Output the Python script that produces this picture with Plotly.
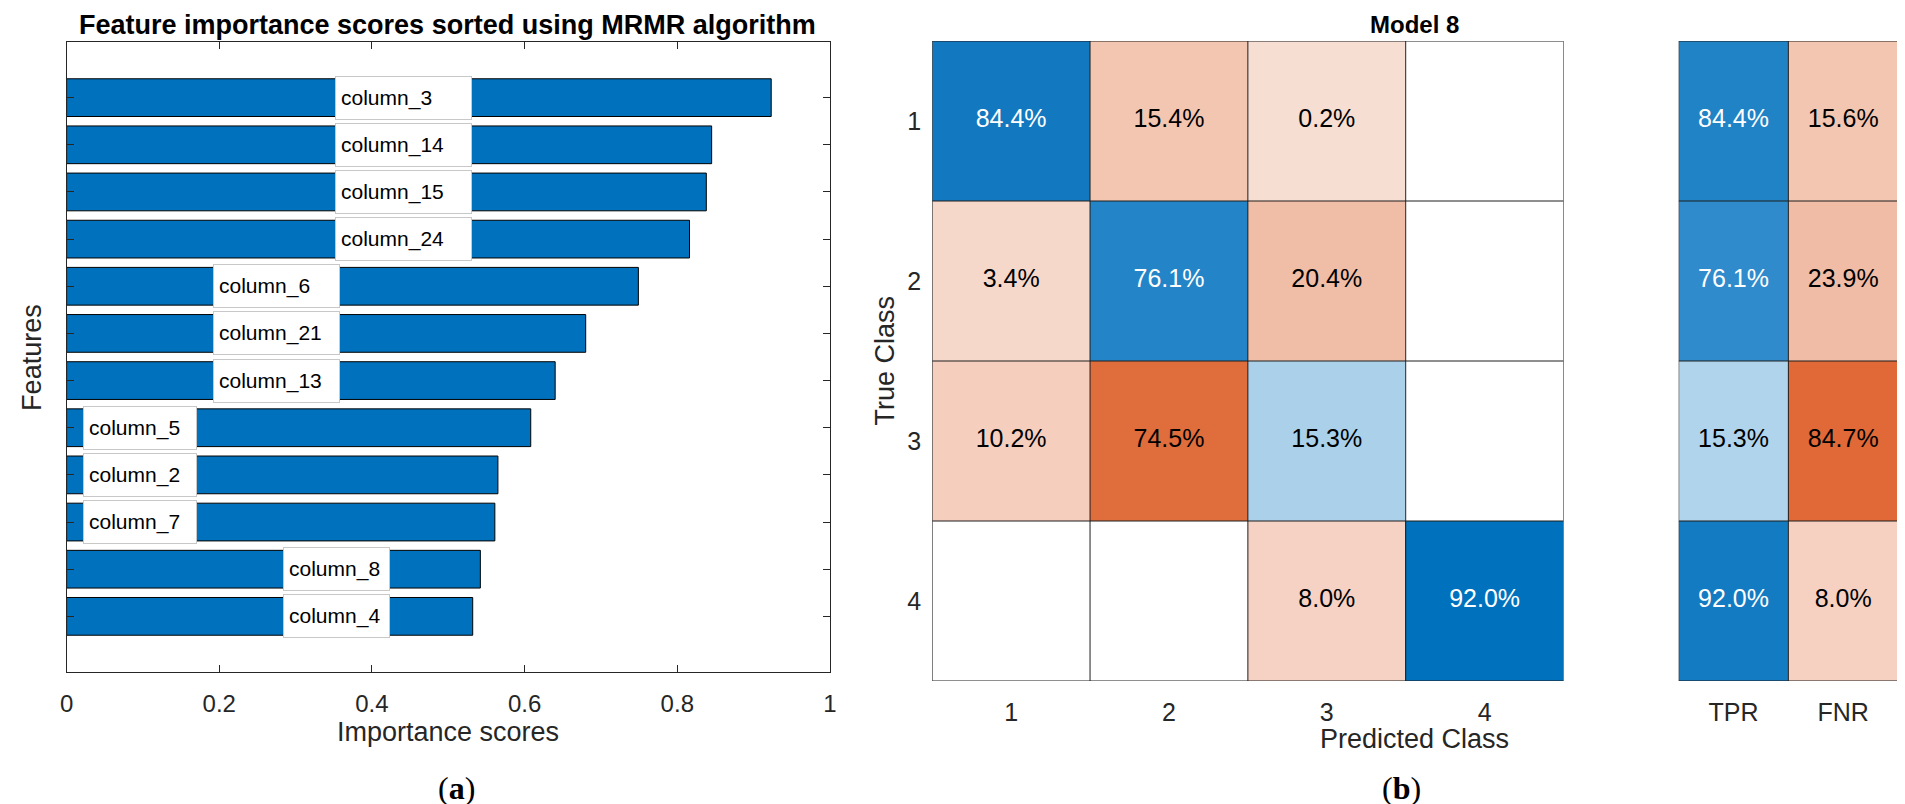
import plotly.graph_objects as go

# ---------------- data ----------------
features = ["column_3", "column_14", "column_15", "column_24", "column_6", "column_21",
            "column_13", "column_5", "column_2", "column_7", "column_8", "column_4"]
scores = [0.923, 0.845, 0.838, 0.816, 0.749, 0.680, 0.640, 0.608, 0.565, 0.561, 0.542, 0.532]

classes = ["1", "2", "3", "4"]
cm_pct = [[84.4, 15.4, 0.2, 0.0],
          [3.4, 76.1, 20.4, 0.0],
          [10.2, 74.5, 15.3, 0.0],
          [0.0, 0.0, 8.0, 92.0]]
summary_cols = ["TPR", "FNR"]
tpr = [84.4, 76.1, 15.3, 92.0]
fnr = [15.6, 23.9, 84.7, 8.0]
x_ticks = [0, 0.2, 0.4, 0.6, 0.8, 1]
x_ticktext = ["0", "0.2", "0.4", "0.6", "0.8", "1"]

# ---------------- style ----------------
W, H = 1905, 804
FONT = "Liberation Sans, Arial, sans-serif"
SERIF = "Liberation Serif, Times New Roman, serif"
AX = "#262626"
BLUE = "#0072BD"
GRID = "#1E1E1E"

def px_x(p):
    return p / W

def px_y(p):
    return 1 - p / H

# label boxes: (left edge in data units, box width px, members)
label_groups = [(0.352, 137, ["column_3", "column_14", "column_15", "column_24"]),
                (0.192, 127, ["column_6", "column_21", "column_13"]),
                (0.021, 114, ["column_5", "column_2", "column_7"]),
                (0.283, 107, ["column_8", "column_4"])]

def build_scale(orange_stops, blue_stops):
    cs = []
    for v, c in sorted(orange_stops, key=lambda s: -s[0]):
        cs.append([(100 - v) / 200.0, c])
    for v, c in sorted(blue_stops, key=lambda s: s[0]):
        cs.append([(100 + v) / 200.0, c])
    cs[0][0] = 0.0
    cs[-1][0] = 1.0
    return cs

cm_scale = build_scale(
    [(0.2, "#F7DED3"), (3.4, "#F6D8CB"), (8.0, "#F5D2C3"), (10.2, "#F5CEBE"),
     (15.4, "#F3C6B2"), (20.4, "#F0BDA6"), (74.5, "#E06D3C"), (100, "#D95319")],
    [(15.3, "#ABD0E9"), (76.1, "#2385C7"), (84.4, "#1279C0"), (92.0, "#0072BD"), (100, "#0072BD")])
sum_scale = build_scale(
    [(8.0, "#F6D0C1"), (15.6, "#F3C6B2"), (23.9, "#F0BCA5"), (84.7, "#E06937"), (100, "#D95319")],
    [(15.3, "#B0D4EC"), (76.1, "#2F8BCB"), (84.4, "#1F83C6"), (92.0, "#137BC1"), (100, "#0072BD")])

fig = go.Figure()

# ---------------- (a) bar chart ----------------
fig.add_trace(go.Bar(
    x=scores, y=features, orientation="h", width=0.8,
    marker=dict(color=BLUE, line=dict(color="black", width=1)),
    xaxis="x", yaxis="y", showlegend=False, hoverinfo="skip"))

# ---------------- (b) confusion matrix ----------------
n = len(classes)
z_cm, txt_x, txt_y, txt, txt_col = [], [], [], [], []
for i in range(n):
    row = []
    for j in range(n):
        v = cm_pct[i][j]
        if v == 0:
            row.append(None)
        else:
            row.append(v if i == j else -v)
            txt_x.append(classes[j]); txt_y.append(classes[i])
            txt.append(f"{v:.1f}%")
            txt_col.append("white" if (i == j and v > 50) else "black")
    z_cm.append(row)

fig.add_trace(go.Heatmap(
    z=z_cm, x=classes, y=classes, zmin=-100, zmax=100, colorscale=cm_scale,
    showscale=False, xaxis="x2", yaxis="y2", hoverinfo="skip"))
fig.add_trace(go.Scatter(
    x=txt_x, y=txt_y, mode="text", text=txt,
    textfont=dict(family=FONT, size=25, color=txt_col),
    xaxis="x2", yaxis="y2", showlegend=False, hoverinfo="skip"))

# summary TPR / FNR
z_sum, sx, sy, st, sc = [], [], [], [], []
for i in range(n):
    z_sum.append([tpr[i], -fnr[i]])
    for k, v in enumerate([tpr[i], fnr[i]]):
        sx.append(summary_cols[k]); sy.append(classes[i])
        st.append(f"{v:.1f}%")
        sc.append("white" if (k == 0 and v > 50) else "black")

fig.add_trace(go.Heatmap(
    z=z_sum, x=summary_cols, y=classes, zmin=-100, zmax=100, colorscale=sum_scale,
    showscale=False, xaxis="x3", yaxis="y3", hoverinfo="skip"))
fig.add_trace(go.Scatter(
    x=sx, y=sy, mode="text", text=st,
    textfont=dict(family=FONT, size=25, color=sc),
    xaxis="x3", yaxis="y3", showlegend=False, hoverinfo="skip"))

# grid lines of the matrices
shapes = []
for k in range(n + 1):
    shapes.append(dict(type="line", xref="x2", yref="y2", x0=k - 0.5, x1=k - 0.5,
                       y0=-0.5, y1=n - 0.5, line=dict(color=GRID, width=1)))
    shapes.append(dict(type="line", xref="x2", yref="y2", y0=k - 0.5, y1=k - 0.5,
                       x0=-0.5, x1=n - 0.5, line=dict(color=GRID, width=1)))
    shapes.append(dict(type="line", xref="x3", yref="y3", y0=k - 0.5, y1=k - 0.5,
                       x0=-0.5, x1=len(summary_cols) - 0.5, line=dict(color=GRID, width=1)))
for k in range(len(summary_cols) + 1):
    shapes.append(dict(type="line", xref="x3", yref="y3", x0=k - 0.5, x1=k - 0.5,
                       y0=-0.5, y1=n - 0.5, line=dict(color=GRID, width=1)))

# ---------------- annotations ----------------
ann = []
for left, bw, members in label_groups:
    for name in members:
        ann.append(dict(xref="x", yref="y", x=left, y=name, xanchor="left", yanchor="middle",
                        text=name, showarrow=False, align="left",
                        font=dict(family=FONT, size=21, color="black"),
                        bgcolor="white", bordercolor="#C8C8C8", borderwidth=1, borderpad=5,
                        width=bw - 12, height=32))

def txt_ann(text, x, y, size, angle=0, family=FONT, color="black"):
    return dict(xref="paper", yref="paper", x=x, y=y, xanchor="center", yanchor="middle",
                text=text, showarrow=False, textangle=angle,
                font=dict(family=family, size=size, color=color))

ann += [
    txt_ann("<b>Feature importance scores sorted using MRMR algorithm</b>", px_x(436), px_y(17), 27),
    txt_ann("<b>Model 8</b>", px_x(1410), px_y(16), 24),
    txt_ann("Features", px_x(17), px_y(349), 27, -90, color=AX),
    txt_ann("Importance scores", px_x(436), px_y(724), 27, color=AX),
    txt_ann("True Class", px_x(876), px_y(353), 27, -90, color=AX),
    txt_ann("Predicted Class", px_x(1410), px_y(731), 27, color=AX),
    txt_ann("(<b>a</b>)", px_x(445), px_y(780), 32, family=SERIF),
    txt_ann("(<b>b</b>)", px_x(1397), px_y(780), 32, family=SERIF),
]

fig.update_layout(
    width=W, height=H, margin=dict(l=0, r=0, t=0, b=0),
    paper_bgcolor="white", plot_bgcolor="white",
    font=dict(family=FONT, color=AX),
    shapes=shapes, annotations=ann, showlegend=False,
    xaxis=dict(domain=[px_x(52), px_x(821)], range=[0, 1], tickvals=x_ticks, ticktext=x_ticktext,
               ticks="inside", ticklen=7, tickcolor=AX, showline=True, linecolor=AX,
               mirror="ticks", showgrid=False, zeroline=False, tickfont=dict(size=24, color=AX),
               ticklabelstandoff=10, anchor="y", fixedrange=True),
    yaxis=dict(domain=[px_y(664), px_y(34)], type="category", categoryorder="array",
               categoryarray=features[::-1], range=[-1.18, len(features) - 1 + 1.18],
               ticks="inside", ticklen=7, tickcolor=AX, showline=True, linecolor=AX,
               mirror="ticks", showgrid=False, zeroline=False, showticklabels=False,
               anchor="x", fixedrange=True),
    xaxis2=dict(domain=[px_x(924), px_x(1560)], type="category", range=[-0.5, n - 0.5],
                showgrid=False, zeroline=False, ticks="", showline=False,
                tickfont=dict(size=25, color=AX), ticklabelstandoff=14, anchor="y2"),
    yaxis2=dict(domain=[px_y(673), px_y(33)], type="category", range=[n - 0.5, -0.5],
                showgrid=False, zeroline=False, ticks="", showline=False,
                tickfont=dict(size=25, color=AX), ticklabelstandoff=10, anchor="x2"),
    xaxis3=dict(domain=[px_x(1676), px_x(1897)], type="category", range=[-0.5, 1.5],
                showgrid=False, zeroline=False, ticks="", showline=False,
                tickfont=dict(size=25, color=AX), ticklabelstandoff=14, anchor="y3"),
    yaxis3=dict(domain=[px_y(673), px_y(33)], type="category", range=[n - 0.5, -0.5],
                showgrid=False, zeroline=False, ticks="", showline=False,
                showticklabels=False, anchor="x3"),
)

fig.write_html("out.html")
